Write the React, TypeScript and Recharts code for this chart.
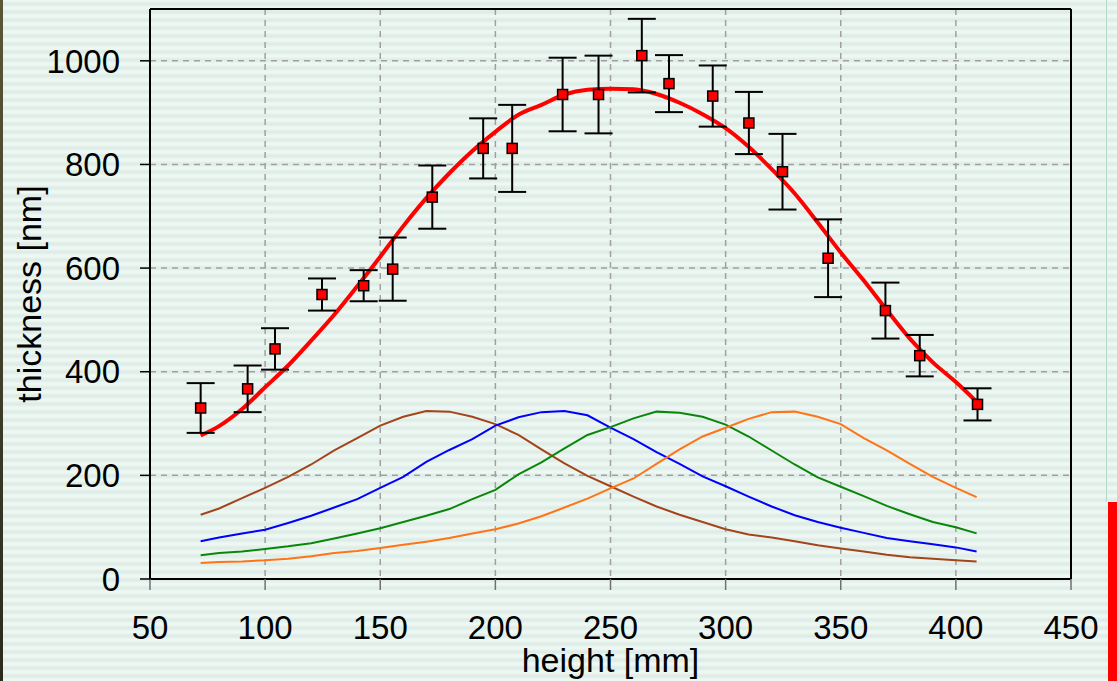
import {
  ComposedChart,
  Line,
  Scatter,
  ErrorBar,
  XAxis,
  YAxis,
  CartesianGrid,
  ReferenceLine,
} from 'recharts';

// ─── Data ────────────────────────────────────────────────────────────────────

const pointX = [72, 92.4, 104.3, 124.7, 142.8, 155.4, 172.6, 194.7, 207.3, 229.2, 244.8, 263.6, 275.4, 294.4, 310.1, 324.7, 344.5, 369.4, 384.3, 409.4];
const pointY = [330, 367, 444, 549, 566, 598, 737, 831, 831, 935, 935, 1010, 956, 932, 880, 786, 619, 518, 431, 337];
const pointErr = [48, 45, 40, 31, 30, 61, 61, 58, 84, 71, 75, 71, 55, 59, 60, 73, 75, 54, 40, 31];

const curveX = [72, 80, 90, 100, 110, 120, 130, 140, 150, 160, 170, 180, 190, 200, 210, 220, 230, 240, 250, 260, 270, 280, 290, 300, 310, 320, 330, 340, 350, 360, 370, 380, 390, 400, 409];
const fitY = [277, 295, 328, 370, 412, 460, 510, 565, 622, 681, 735, 783, 826, 863, 896, 915, 935, 944, 946, 945, 936, 919, 897, 870, 834, 791, 744, 688, 630, 576, 519, 464, 418, 380, 342];
const brownY = [124, 136, 156, 176, 197, 221, 248, 272, 296, 313, 324, 323, 313, 299, 278, 250, 223, 199, 179, 159, 140, 124, 110, 96, 86, 80, 73, 65, 59, 53, 47, 42, 39, 36, 34];
const blueY = [73, 80, 88, 95, 108, 122, 138, 154, 176, 197, 226, 249, 270, 296, 312, 322, 324, 316, 292, 270, 245, 222, 198, 179, 159, 140, 123, 110, 99, 89, 79, 73, 67, 61, 53];
const greenY = [46, 50, 53, 58, 63, 69, 78, 88, 98, 110, 122, 135, 154, 172, 202, 225, 252, 278, 293, 310, 323, 321, 313, 298, 275, 248, 221, 196, 178, 160, 141, 125, 110, 100, 88];
const orangeY = [31, 33, 34, 36, 39, 44, 50, 54, 60, 66, 72, 79, 88, 96, 107, 121, 138, 155, 175, 194, 222, 250, 275, 292, 309, 322, 323, 313, 299, 272, 248, 222, 197, 176, 158];

const xTicks = [50, 100, 150, 200, 250, 300, 350, 400, 450];
const yTicks = [0, 200, 400, 600, 800, 1000];

const points = pointX.map((x, i) => ({ x, y: pointY[i], err: pointErr[i] }));
const curve = (ys: number[]) => curveX.map((x, i) => ({ x, y: ys[i] }));

const FONT = '"Liberation Sans", Arial, sans-serif';

const squareShape = (props: any) => (
  <rect
    x={props.cx - 5}
    y={props.cy - 5}
    width={10}
    height={10}
    fill="#ff0000"
    stroke="#000"
    strokeWidth={1.5}
  />
);

export default function App() {
  return (
    <div
      style={{
        position: 'fixed',
        left: 0,
        top: 0,
        width: 1117,
        height: 681,
        overflow: 'hidden',
        fontFamily: FONT,
        background:
          'repeating-linear-gradient(to bottom, #f2f9f6 0px, #dbebe4 4px, #f2f9f6 8px)',
      }}
    >
      <div
        style={{
          position: 'absolute',
          left: 0,
          top: 0,
          width: 3,
          height: 681,
          background: 'linear-gradient(to bottom, #5a5638, #2a2a1e)',
        }}
      />
      <div
        style={{
          position: 'absolute',
          left: 1106,
          top: 0,
          width: 1,
          height: 502,
          background: '#b3d9c9',
        }}
      />
      <div
        style={{
          position: 'absolute',
          left: 1108,
          top: 502,
          width: 9,
          height: 179,
          background: '#ff0000',
        }}
      />
      <ComposedChart
        width={1117}
        height={681}
        margin={{ top: 9, right: 46, bottom: 0, left: 0 }}
        style={{ position: 'absolute', left: 0, top: 0 }}
      >
        <CartesianGrid
          stroke="#a0a0a0"
          strokeWidth={1.5}
          strokeDasharray="6 5"
          fill="none"
        />
        <XAxis
          type="number"
          dataKey="x"
          domain={[50, 450]}
          ticks={xTicks}
          allowDataOverflow
          height={102}
          axisLine={{ stroke: '#000', strokeWidth: 2 }}
          tickLine={{ stroke: '#707070', strokeWidth: 1.5 }}
          tickSize={11}
          tickMargin={26}
          tick={{ fontSize: 33, fill: '#000', fontFamily: FONT }}
          label={{
            value: 'height [mm]',
            position: 'insideBottom',
            offset: 9,
            style: { fontSize: 34, fill: '#000', fontFamily: FONT },
          }}
        />
        <YAxis
          type="number"
          domain={[0, 1100]}
          ticks={yTicks}
          allowDataOverflow
          width={150}
          axisLine={{ stroke: '#000', strokeWidth: 2 }}
          tickLine={{ stroke: '#000', strokeWidth: 1.5 }}
          tickSize={10}
          tickMargin={20}
          tick={{ fontSize: 33, fill: '#000', fontFamily: FONT }}
          label={{
            value: 'thickness [nm]',
            angle: -90,
            position: 'insideLeft',
            offset: 29,
            style: { fontSize: 34, fill: '#000', fontFamily: FONT, textAnchor: 'middle' },
          }}
        />
        <ReferenceLine y={1100} stroke="#000" strokeWidth={2} />
        <ReferenceLine x={450} stroke="#000" strokeWidth={2} />
        <Line data={curve(brownY)} dataKey="y" type="linear" stroke="#a4441a" strokeWidth={2} dot={false} isAnimationActive={false} />
        <Line data={curve(blueY)} dataKey="y" type="linear" stroke="#0000ff" strokeWidth={2} dot={false} isAnimationActive={false} />
        <Line data={curve(greenY)} dataKey="y" type="linear" stroke="#0a870a" strokeWidth={2} dot={false} isAnimationActive={false} />
        <Line data={curve(orangeY)} dataKey="y" type="linear" stroke="#ff7417" strokeWidth={2} dot={false} isAnimationActive={false} />
        <Line data={curve(fitY)} dataKey="y" type="monotone" stroke="#ff0000" strokeWidth={4} dot={false} isAnimationActive={false} />
        <Scatter data={points} dataKey="y" shape={squareShape} isAnimationActive={false}>
          <ErrorBar dataKey="err" direction="y" width={14} stroke="#000" strokeWidth={2} />
        </Scatter>
      </ComposedChart>
    </div>
  );
}
